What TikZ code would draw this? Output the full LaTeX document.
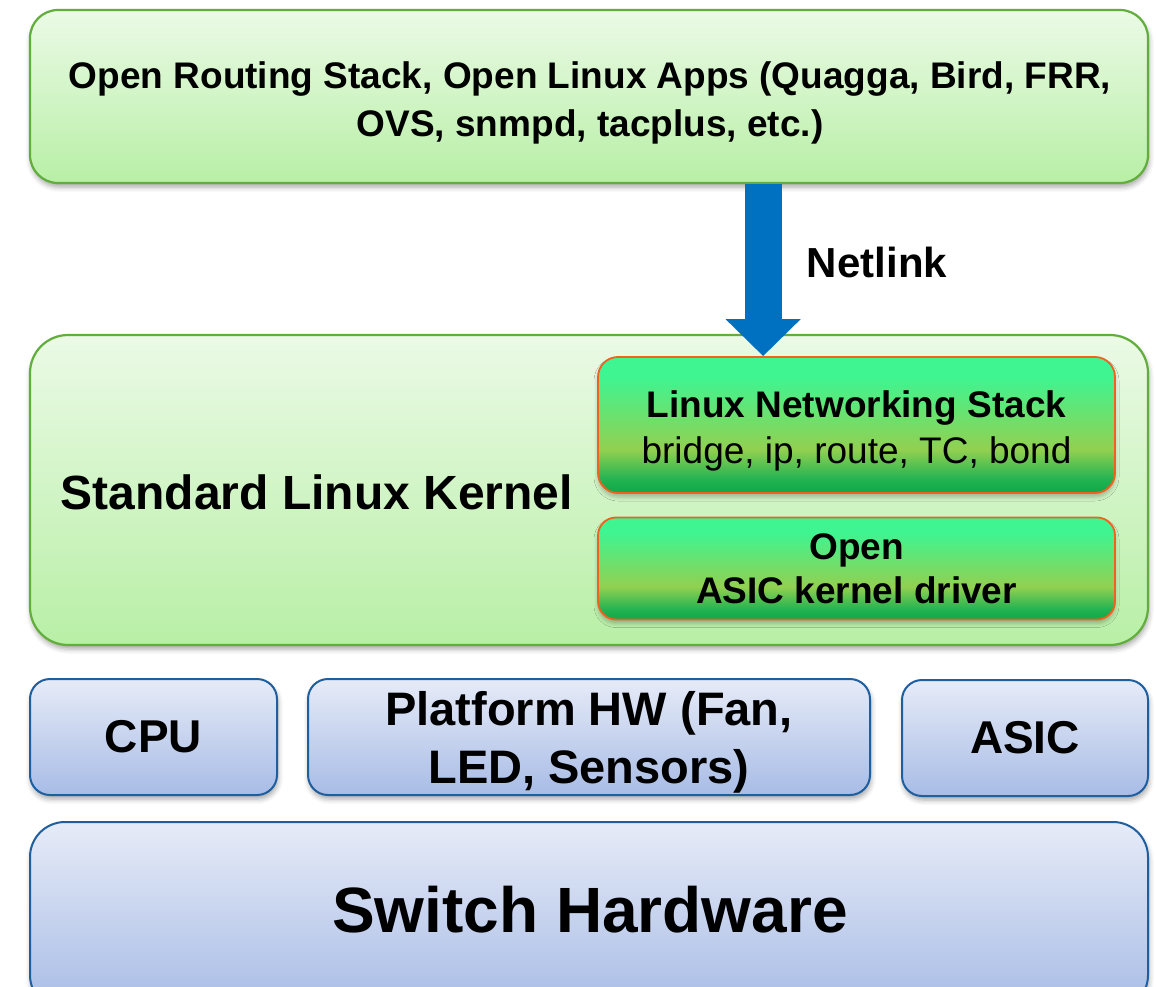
\documentclass[tikz,border=0pt]{standalone}
\usepackage{fontspec}
\setmainfont{Liberation Sans}
\usetikzlibrary{shadows.blur,arrows.meta,calc}

\definecolor{gTop}{HTML}{EBFAE6}
\definecolor{gBot}{HTML}{B8EFA6}
\definecolor{gEdge}{HTML}{62AE3C}
\definecolor{bTop}{HTML}{E6EBF7}
\definecolor{bBot}{HTML}{A8BCE6}
\definecolor{bEdge}{HTML}{1F5F9F}
\definecolor{oEdge}{HTML}{F0621E}
\definecolor{lnsA}{HTML}{0FA848}
\definecolor{lnsB}{HTML}{22B352}
\definecolor{lnsC}{HTML}{92D050}
\definecolor{lnsD}{HTML}{3EF592}
\definecolor{netBlue}{HTML}{0070C0}

% mint -> yellow-green -> dark green, top to bottom
\pgfdeclareverticalshading{modfill}{100bp}{%
  color(0bp)=(lnsA); color(25bp)=(lnsA); color(30bp)=(lnsB);
  color(41bp)=(lnsC); color(68bp)=(lnsD); color(100bp)=(lnsD)}

\tikzset{
  softshadow/.style={blur shadow={shadow xshift=1pt, shadow yshift=-4pt,
      shadow blur radius=5pt, shadow opacity=35}},
  layer/.style={draw=gEdge, line width=2.2pt, top color=gTop, bottom color=gBot,
      softshadow, inner sep=0pt, align=center},
  module/.style={draw=oEdge, line width=1.8pt, shading=modfill,
      blur shadow={shadow xshift=0pt, shadow yshift=-4pt,
      shadow blur radius=4pt, shadow opacity=25},
      inner sep=0pt, align=center, minimum width=517pt,
      rounded corners=20pt},
  hwbox/.style={draw=bEdge, line width=2pt, top color=bTop, bottom color=bBot,
      softshadow, inner sep=0pt, align=center, rounded corners=20pt},
  caption/.style={inner sep=0pt, align=center},
}

\begin{document}
\begin{tikzpicture}[x=1pt, y=-1pt]
\useasboundingbox (0,0) rectangle (1156,987);

% user space
\node[layer, rounded corners=28pt, minimum width=1118pt, minimum height=173pt] (apps) at (589,96.5) {};
\node[caption, font=\fontsize{37}{48}\selectfont\bfseries] (appstext) at (590,103)
  {Open Routing Stack, Open Linux Apps (Quagga, Bird, FRR,\\OVS, snmpd, tacplus, etc.)};

% kernel
\node[layer, rounded corners=38pt, minimum width=1118pt, minimum height=310pt] (kernel) at (589,490) {};
\node[caption, font=\fontsize{48}{56}\selectfont\bfseries] (kname) at (317,492) {Standard Linux Kernel};

\node[module, minimum height=136pt] (lns) at (856.5,425) {};
\node[caption, font=\fontsize{37}{46}\selectfont] (lnstext) at (856.5,431)
  {\textbf{Linux Networking Stack}\\bridge, ip, route, TC, bond};
\node[module, minimum height=102pt, rounded corners=18pt,
      font=\fontsize{37}{44}\selectfont\bfseries] (drv) at (856.5,568.5)
  {Open\\ASIC kernel driver};

% hardware
\node[hwbox, minimum width=247pt, minimum height=116pt,
      font=\fontsize{46}{56}\selectfont\bfseries] (cpu) at (153.5,737) {CPU};
\node[hwbox, minimum width=562pt, minimum height=116pt] (plat) at (589,737) {};
\node[caption, font=\fontsize{47}{58}\selectfont\bfseries] (plattext) at (589,742)
  {Platform HW (Fan,\\LED, Sensors)};
\node[hwbox, minimum width=246pt, minimum height=116pt,
      font=\fontsize{46}{56}\selectfont\bfseries] (asic) at (1025,738) {ASIC};
\node[hwbox, rounded corners=35pt, minimum width=1118pt, minimum height=188pt] (sw) at (589,916) {};
\node[caption, font=\fontsize{64}{72}\selectfont\bfseries] (swtext) at (590,910) {Switch Hardware};

% netlink block arrow
\coordinate (nlend) at ($(lns.north west)!0.32!(lns.north east)$);
\draw[netBlue, line width=37pt, -{Triangle[width=73pt,length=37pt]}]
  (apps.south -| nlend) -- (nlend);
\node[caption, font=\fontsize{42}{50}\selectfont\bfseries] (nl) at (877,262) {Netlink};
\end{tikzpicture}
\end{document}
